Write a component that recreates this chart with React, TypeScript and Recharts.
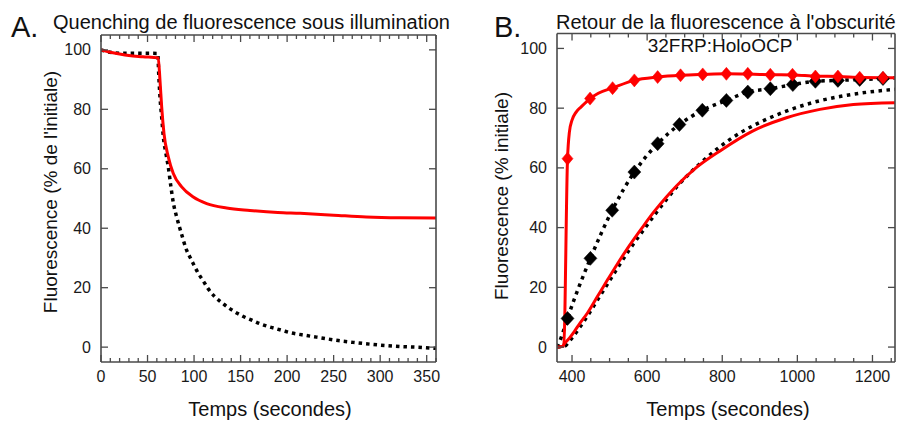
import React from 'react';
import { ComposedChart, Line, XAxis, YAxis } from 'recharts';

// ---------- Panel A data (time s, % of initial) ----------
const quenchRed = [
  { t: 0, v: 100 }, { t: 10, v: 99.2 }, { t: 20, v: 98.6 }, { t: 30, v: 98.1 },
  { t: 45, v: 97.7 }, { t: 61.5, v: 97.3 }, { t: 63.4, v: 89.7 }, { t: 65.2, v: 80.8 },
  { t: 67.7, v: 71.8 }, { t: 72.3, v: 64 }, { t: 77.7, v: 58.4 }, { t: 86.7, v: 53.9 },
  { t: 99.2, v: 50.5 }, { t: 113.6, v: 48.3 }, { t: 135, v: 46.8 }, { t: 160, v: 46 },
  { t: 190, v: 45.3 }, { t: 214, v: 45.0 }, { t: 250, v: 44.4 }, { t: 285, v: 43.8 },
  { t: 321, v: 43.5 }, { t: 360, v: 43.4 },
];
const quenchBlack = [
  { t: 0, v: 100 }, { t: 8, v: 99.3 }, { t: 20, v: 98.9 }, { t: 61, v: 98.8 },
  { t: 62, v: 92 }, { t: 63.4, v: 84.1 }, { t: 65.2, v: 77.4 }, { t: 67, v: 70.7 },
  { t: 69.8, v: 65.1 }, { t: 72.3, v: 60.6 }, { t: 74.9, v: 54.5 }, { t: 77.7, v: 48.6 },
  { t: 81.3, v: 43.8 }, { t: 86.7, v: 37.9 }, { t: 92, v: 32.6 }, { t: 96.4, v: 29.8 },
  { t: 104.6, v: 24.8 }, { t: 110, v: 22.2 }, { t: 115.3, v: 19.6 }, { t: 122.5, v: 16.9 },
  { t: 129.7, v: 15.0 }, { t: 136.8, v: 13.3 }, { t: 145.8, v: 11.5 }, { t: 153, v: 10.3 },
  { t: 162, v: 9.1 }, { t: 169, v: 8.1 }, { t: 178, v: 7.1 }, { t: 187, v: 6.3 },
  { t: 196, v: 5.5 }, { t: 203, v: 4.9 }, { t: 221, v: 3.9 }, { t: 237, v: 3.1 },
  { t: 255, v: 2.2 }, { t: 271, v: 1.6 }, { t: 289, v: 1.0 }, { t: 307, v: 0.5 },
  { t: 321, v: 0.2 }, { t: 339, v: 0.0 }, { t: 360, v: -0.4 },
];

// ---------- Panel B data ----------
const recovRedFast = [
  { t: 360, v: 0 }, { t: 378, v: 0.3 }, { t: 388, v: 63 }, { t: 393, v: 72 },
  { t: 400, v: 76 }, { t: 410, v: 78.5 }, { t: 425, v: 80.5 }, { t: 448, v: 83.2 },
  { t: 470, v: 85 }, { t: 508, v: 86.8 }, { t: 566, v: 89.3 }, { t: 628, v: 90.4 },
  { t: 689, v: 91 }, { t: 750, v: 91.3 }, { t: 811, v: 91.5 }, { t: 870, v: 91.4 },
  { t: 930, v: 91.2 }, { t: 990, v: 91.1 }, { t: 1050, v: 90.7 }, { t: 1110, v: 90.6 },
  { t: 1170, v: 90.3 }, { t: 1260, v: 90.2 },
];
const recovRedFastMarks = [
  { t: 388, v: 63.1 }, { t: 448, v: 83.2 }, { t: 508, v: 86.7 }, { t: 566, v: 89.3 },
  { t: 628, v: 90.4 }, { t: 689, v: 91 }, { t: 748, v: 91.3 }, { t: 811, v: 91.5 },
  { t: 868, v: 91.5 }, { t: 928, v: 91.2 }, { t: 987, v: 91.2 }, { t: 1048, v: 90.6 },
  { t: 1108, v: 90.6 }, { t: 1166, v: 90.2 }, { t: 1228, v: 90.2 },
];
const recovBlackMarkLine = [
  { t: 360, v: 0 }, { t: 366, v: 1.5 }, { t: 375, v: 4.6 }, { t: 388, v: 9.6 },
  { t: 449, v: 29.7 }, { t: 507, v: 45.8 }, { t: 566, v: 58.6 }, { t: 628, v: 68.1 },
  { t: 686, v: 74.5 }, { t: 747, v: 79.3 }, { t: 811, v: 82.6 }, { t: 868, v: 85.4 },
  { t: 928, v: 86.5 }, { t: 988, v: 87.9 }, { t: 1048, v: 89 }, { t: 1108, v: 89.3 },
  { t: 1166, v: 89.6 }, { t: 1228, v: 89.9 }, { t: 1260, v: 90.1 },
];
const recovBlackMarks = [
  { t: 388, v: 9.6 }, { t: 449, v: 29.7 }, { t: 507, v: 45.8 }, { t: 566, v: 58.6 },
  { t: 628, v: 68.1 }, { t: 686, v: 74.5 }, { t: 747, v: 79.3 }, { t: 811, v: 82.6 },
  { t: 868, v: 85.4 }, { t: 928, v: 86.5 }, { t: 988, v: 87.9 }, { t: 1048, v: 89 },
  { t: 1108, v: 89.3 }, { t: 1166, v: 89.6 }, { t: 1228, v: 89.9 },
];
const recovBlackSlow = [
  { t: 360, v: 0 }, { t: 380, v: 0.3 }, { t: 393, v: 2 }, { t: 406, v: 4 },
  { t: 420, v: 6.5 }, { t: 441.6, v: 10.5 }, { t: 468, v: 15.8 }, { t: 495, v: 21.2 },
  { t: 521.6, v: 26.6 }, { t: 552.8, v: 32.6 }, { t: 588, v: 38.8 }, { t: 619.5, v: 44.2 },
  { t: 650.7, v: 49.3 }, { t: 680, v: 53.8 }, { t: 744, v: 61.8 }, { t: 793, v: 67 },
  { t: 846, v: 71.6 }, { t: 899.5, v: 75.2 }, { t: 970.6, v: 79 }, { t: 1041.6, v: 81.9 },
  { t: 1112.8, v: 83.9 }, { t: 1184, v: 85.3 }, { t: 1260, v: 86.3 },
];
const recovRedSlow = [
  { t: 360, v: 0 }, { t: 374, v: 0.2 }, { t: 380, v: 1.2 }, { t: 393, v: 3 },
  { t: 406, v: 5.2 }, { t: 420, v: 7.8 }, { t: 441.6, v: 11.5 }, { t: 468, v: 17 },
  { t: 495, v: 22.6 }, { t: 521.6, v: 28 }, { t: 552.8, v: 34 }, { t: 588, v: 40.2 },
  { t: 619.5, v: 45.5 }, { t: 650.7, v: 50.2 }, { t: 680, v: 54.2 }, { t: 726, v: 59.6 },
  { t: 793, v: 65.6 }, { t: 882, v: 72.4 }, { t: 971, v: 76.8 }, { t: 1060, v: 79.6 },
  { t: 1149, v: 81.2 }, { t: 1260, v: 81.8 },
];

// ---------- ticks ----------
const xTicksA = [0, 10, 20, 30, 40, 50, 60, 70, 80, 90, 100, 110, 120, 130, 140, 150, 160, 170, 180,
  190, 200, 210, 220, 230, 240, 250, 260, 270, 280, 290, 300, 310, 320, 330, 340, 350, 360];
const xLabelsA = [0, 50, 100, 150, 200, 250, 300, 350];
const xTicksB = [400, 450, 500, 550, 600, 650, 700, 750, 800, 850, 900, 950, 1000, 1050, 1100,
  1150, 1200, 1250];
const xLabelsB = [400, 600, 800, 1000, 1200];
const yTicks = [0, 20, 40, 60, 80, 100];

const FONT = '"Liberation Sans", Arial, Helvetica, sans-serif';
const AX = '#4a4a4a';
const RED = '#ff0000';

const makeXTick = (labels: number[], side: 'bottom' | 'top') => (props: any) => {
  const { x, y, payload } = props;
  const v = payload.value;
  const major = labels.includes(v);
  const len = major ? 7 : 4;
  const dir = side === 'bottom' ? -1 : 1;
  return (
    <g>
      <line x1={x} x2={x} y1={y} y2={y + dir * len} stroke={AX} strokeWidth={1.3} />
      {side === 'bottom' && major ? (
        <text x={x} y={y + 20} textAnchor="middle" fontSize={16} fill="#1a1a1a" fontFamily={FONT}>
          {v}
        </text>
      ) : null}
    </g>
  );
};

const makeYTick = (side: 'left' | 'right') => (props: any) => {
  const { x, y, payload } = props;
  const dir = side === 'left' ? 1 : -1;
  return (
    <g>
      <line x1={x} x2={x + dir * 7} y1={y} y2={y} stroke={AX} strokeWidth={1.3} />
      {side === 'left' ? (
        <text x={x - 10} y={y + 5.5} textAnchor="end" fontSize={16} fill="#1a1a1a" fontFamily={FONT}>
          {payload.value}
        </text>
      ) : null}
    </g>
  );
};

const diamond = (color: string, hw: number, hh: number) => (p: any) => {
  const { cx, cy, index } = p;
  if (cx == null || cy == null) return <g key={index} />;
  return (
    <polygon
      key={index}
      points={`${cx},${cy - hh} ${cx + hw},${cy} ${cx},${cy + hh} ${cx - hw},${cy}`}
      fill={color}
      stroke={color}
      strokeWidth={0.5}
    />
  );
};

const axisLine = { stroke: AX, strokeWidth: 1.6 };

function ChartA() {
  return (
    <ComposedChart width={450} height={421} margin={{ top: 34, right: 13, bottom: 29, left: 61 }}>
      <XAxis xAxisId="b" orientation="bottom" type="number" dataKey="t" domain={[0, 360]} allowDataOverflow
        ticks={xTicksA} interval={0} tickSize={0} tickMargin={0} height={30} tickLine={false}
        axisLine={axisLine} tick={makeXTick(xLabelsA, 'bottom')} />
      <XAxis xAxisId="t" orientation="top" type="number" dataKey="t" domain={[0, 360]} allowDataOverflow
        ticks={xTicksA} interval={0} tickSize={0} tickMargin={0} height={1} tickLine={false}
        axisLine={axisLine} tick={makeXTick(xLabelsA, 'top')} />
      <YAxis yAxisId="l" orientation="left" type="number" dataKey="v" domain={[-5, 105]} allowDataOverflow
        ticks={yTicks} interval={0} tickSize={0} tickMargin={0} width={40} tickLine={false}
        axisLine={axisLine} tick={makeYTick('left')} />
      <YAxis yAxisId="r" orientation="right" type="number" dataKey="v" domain={[-5, 105]} allowDataOverflow
        ticks={yTicks} interval={0} tickSize={0} tickMargin={0} width={1} tickLine={false}
        axisLine={axisLine} tick={makeYTick('right')} />
      <Line data={quenchBlack} dataKey="v" xAxisId="b" yAxisId="l" type="monotone" stroke="#000"
        strokeWidth={3.5} strokeDasharray="3.5 4" dot={false} isAnimationActive={false} />
      <Line data={quenchRed} dataKey="v" xAxisId="b" yAxisId="l" type="monotone" stroke={RED}
        strokeWidth={3} dot={false} isAnimationActive={false} />
      <Line data={quenchRed} dataKey="v" xAxisId="t" yAxisId="r" stroke="none" dot={false}
        isAnimationActive={false} legendType="none" />
    </ComposedChart>
  );
}

function ChartB() {
  return (
    <ComposedChart width={449} height={421} margin={{ top: 32.5, right: 3, bottom: 29, left: 67 }}>
      <XAxis xAxisId="b" orientation="bottom" type="number" dataKey="t" domain={[360, 1260]} allowDataOverflow
        ticks={xTicksB} interval={0} tickSize={0} tickMargin={0} height={30} tickLine={false}
        axisLine={axisLine} tick={makeXTick(xLabelsB, 'bottom')} />
      <XAxis xAxisId="t" orientation="top" type="number" dataKey="t" domain={[360, 1260]} allowDataOverflow
        ticks={xTicksB} interval={0} tickSize={0} tickMargin={0} height={1} tickLine={false}
        axisLine={axisLine} tick={makeXTick(xLabelsB, 'top')} />
      <YAxis yAxisId="l" orientation="left" type="number" dataKey="v" domain={[-5, 105]} allowDataOverflow
        ticks={yTicks} interval={0} tickSize={0} tickMargin={0} width={40} tickLine={false}
        axisLine={axisLine} tick={makeYTick('left')} />
      <YAxis yAxisId="r" orientation="right" type="number" dataKey="v" domain={[-5, 105]} allowDataOverflow
        ticks={yTicks} interval={0} tickSize={0} tickMargin={0} width={1} tickLine={false}
        axisLine={axisLine} tick={makeYTick('right')} />
      <Line data={recovBlackSlow} dataKey="v" xAxisId="b" yAxisId="l" type="monotone" stroke="#000"
        strokeWidth={3.5} strokeDasharray="3.5 4.5" dot={false} isAnimationActive={false} />
      <Line data={recovRedSlow} dataKey="v" xAxisId="b" yAxisId="l" type="monotone" stroke={RED}
        strokeWidth={3} dot={false} isAnimationActive={false} />
      <Line data={recovBlackMarkLine} dataKey="v" xAxisId="b" yAxisId="l" type="monotone" stroke="#000"
        strokeWidth={3.5} strokeDasharray="3.5 4.5" dot={false} isAnimationActive={false} />
      <Line data={recovBlackMarks} dataKey="v" xAxisId="b" yAxisId="l" stroke="none"
        dot={diamond('#000', 6.5, 7)} isAnimationActive={false} />
      <Line data={recovRedFast} dataKey="v" xAxisId="b" yAxisId="l" type="monotone" stroke={RED}
        strokeWidth={3} dot={false} isAnimationActive={false} />
      <Line data={recovRedFastMarks} dataKey="v" xAxisId="b" yAxisId="l" stroke="none"
        dot={diamond(RED, 5.5, 6.5)} isAnimationActive={false} />
      <Line data={recovRedFast} dataKey="v" xAxisId="t" yAxisId="r" stroke="none" dot={false}
        isAnimationActive={false} legendType="none" />
    </ComposedChart>
  );
}

export default function App() {
  return (
    <div style={{ position: 'absolute', left: 0, top: 0, width: 899, height: 421, background: '#fff', fontFamily: FONT }}>
      <div style={{ position: 'absolute', left: 0, top: 0 }}>
        <ChartA />
      </div>
      <div style={{ position: 'absolute', left: 450, top: 0 }}>
        <ChartB />
      </div>
      <svg width={899} height={421} style={{ position: 'absolute', left: 0, top: 0, pointerEvents: 'none' }}
        fontFamily={FONT} fill="#111">
        <text x={11} y={37} fontSize={29}>A.</text>
        <text x={53} y={28.5} fontSize={20}>Quenching de fluorescence sous illumination</text>
        <text x={494} y={37} fontSize={29}>B.</text>
        <text x={556} y={28.5} fontSize={20}>Retour de la fluorescence à l'obscurité</text>
        <text x={720} y={51.5} fontSize={19} textAnchor="middle">32FRP:HoloOCP</text>
        <text x={270} y={416} fontSize={20} textAnchor="middle">Temps (secondes)</text>
        <text x={728} y={416} fontSize={20} textAnchor="middle">Temps (secondes)</text>
        <text transform="translate(56.5,192) rotate(-90)" fontSize={19} textAnchor="middle">
          Fluorescence (% de l'initiale)
        </text>
        <text transform="translate(508,196) rotate(-90)" fontSize={19} textAnchor="middle">
          Fluorescence (% initiale)
        </text>
      </svg>
    </div>
  );
}
